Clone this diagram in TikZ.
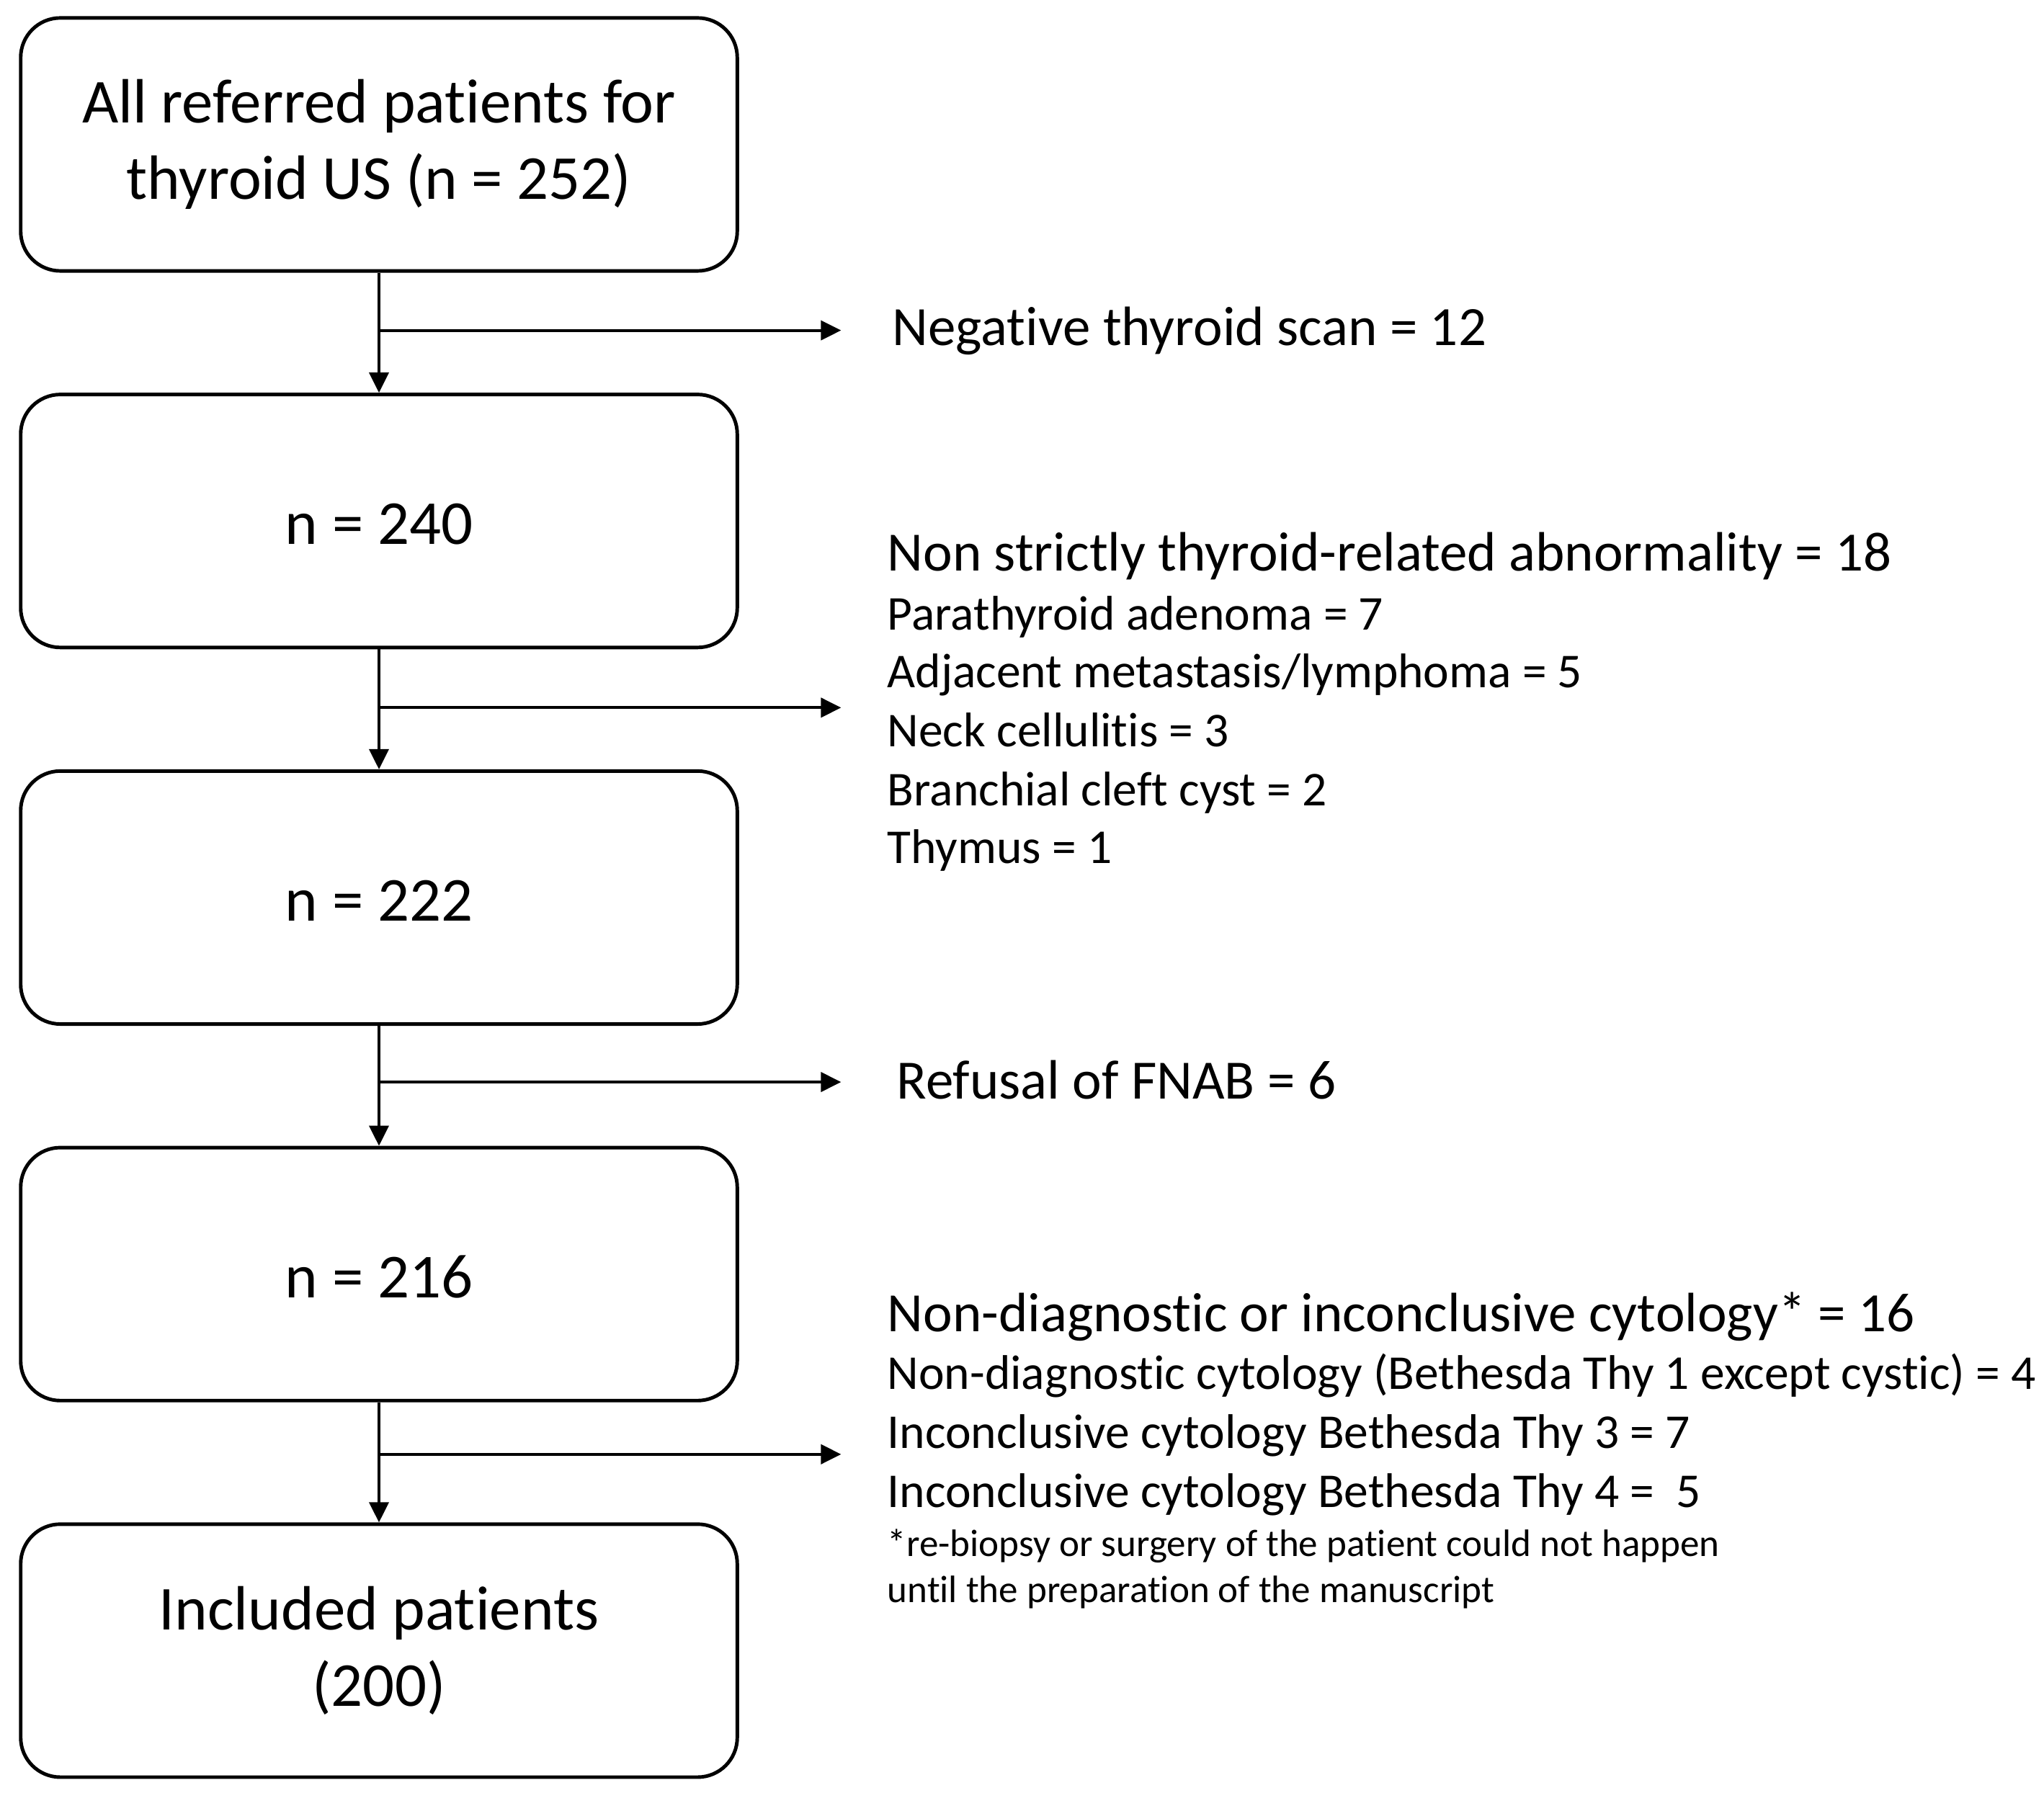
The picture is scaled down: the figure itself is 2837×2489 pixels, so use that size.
\documentclass[tikz,border=0pt]{standalone}
\usepackage{fontspec}
\setmainfont{Carlito}[Ligatures=NoCommon]
\usetikzlibrary{positioning,arrows.meta}

\begin{document}
\begin{tikzpicture}[x=0.01cm, y=-0.01cm,
        box/.style={draw, line width=1.4pt, rounded corners=0.55cm, minimum width=9.94cm, minimum height=3.51cm, align=center, font=\fontsize{24.7}{30}\selectfont, execute at begin node={\rule{0pt}{18.7pt}}},
        flow/.style={line width=1.1pt, -{Triangle[length=0.28cm, width=0.27cm]}},
        head/.style={anchor=base west, inner sep=0pt, font=\fontsize{21.9}{26}\selectfont},
        item/.style={anchor=base west, inner sep=0pt, font=\fontsize{19.2}{23}\selectfont},
        note/.style={anchor=base west, inner sep=0pt, font=\fontsize{15.1}{18}\selectfont}]
            \useasboundingbox (0,0) rectangle (2837,2489);
            \node[box] (all) at (526,200.5) {All referred patients for\\thyroid US (n = 252)};
            \node[box, below=1.665cm of all] (n240) {n = 240};
            \node[box, below=1.665cm of n240] (n222) {n = 222};
            \node[box, below=1.665cm of n222] (n216) {n = 216};
            \node[box, below=1.665cm of n216] (incl) {Included patients\\(200)};
            \node[head] (neg) at (1238,480) {Negative thyroid scan = 12};
            \node[head] (nonrel) at (1231,793) {Non strictly thyroid-related abnormality = 18};
            \node[item] (para) at (1231,875) {Parathyroid adenoma = 7};
            \node[item] (adj) at (1231,955) {Adjacent metastasis/lymphoma = 5};
            \node[item] (neck) at (1231,1037) {Neck cellulitis = 3};
            \node[item] (branch) at (1231,1118) {Branchial cleft cyst = 2};
            \node[item] (thym) at (1231,1198) {Thymus = 1};
            \node[head] (refus) at (1244,1525) {Refusal of FNAB = 6};
            \node[head] (nondiag) at (1231,1848) {Non-diagnostic or inconclusive cytology* = 16};
            \node[item] (thyone) at (1231,1928) {Non-diagnostic cytology (Bethesda Thy 1 except cystic) = 4};
            \node[item] (thythree) at (1231,2010) {Inconclusive cytology Bethesda Thy 3 = 7};
            \node[item] (thyfour) at (1231,2092) {Inconclusive cytology Bethesda Thy 4 =\ \ 5};
            \node[note] (foota) at (1231,2160) {*re-biopsy or surgery of the patient could not happen};
            \node[note] (footb) at (1231,2224) {until the preparation of the manuscript};
            \coordinate[below=0.8cm of all.south] (j1);
            \coordinate[right=6.41cm of j1] (e1);
            \coordinate[below=0.81cm of n240.south] (j2);
            \coordinate[right=6.41cm of j2] (e2);
            \coordinate[below=0.78cm of n222.south] (j3);
            \coordinate[right=6.41cm of j3] (e3);
            \coordinate[below=0.72cm of n216.south] (j4);
            \coordinate[right=6.41cm of j4] (e4);
            \draw[flow] (all) -- (n240);
            \draw[flow] (n240) -- (n222);
            \draw[flow] (n222) -- (n216);
            \draw[flow] (n216) -- (incl);
            \draw[flow] (j1) -- (e1);
            \draw[flow] (j2) -- (e2);
            \draw[flow] (j3) -- (e3);
            \draw[flow] (j4) -- (e4);
\end{tikzpicture}
\end{document}
